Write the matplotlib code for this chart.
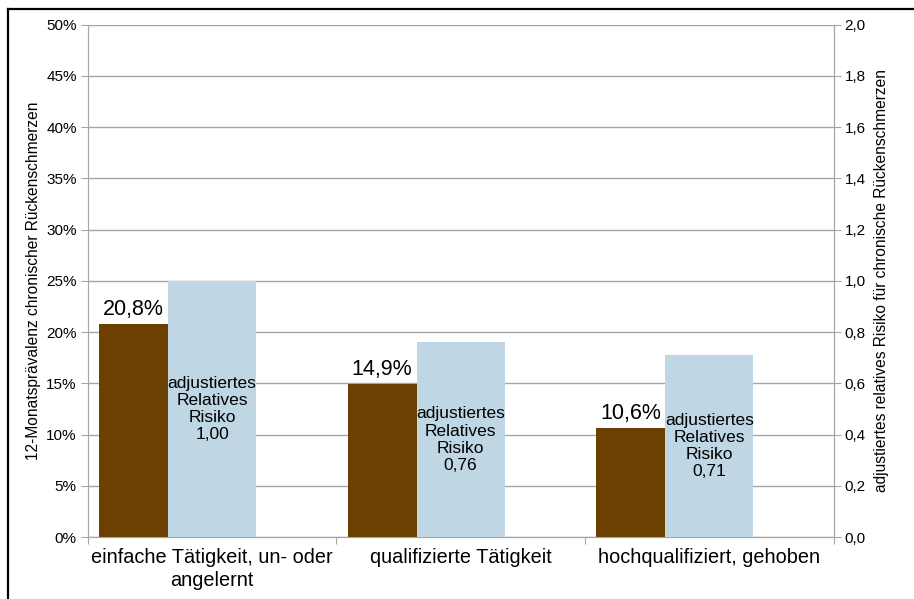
import numpy as np
import matplotlib.pyplot as plt
from matplotlib.ticker import FuncFormatter

plt.rcParams['font.family'] = ['Liberation Sans', 'DejaVu Sans']

# data
kategorien = ["einfache Tätigkeit, un- oder\nangelernt", "qualifizierte Tätigkeit", "hochqualifiziert, gehoben"]
praevalenz = [20.8, 14.9, 10.6]          # % (linke Achse)
rel_risiko = [1.00, 0.76, 0.71]          # rechte Achse

braun = "#6B4000"
hellblau = "#BFD7E4"
grau = "#A6A6A6"

fig = plt.figure(figsize=(9.14, 5.99), dpi=100)
ax = fig.add_axes([0.096, 0.1035, 0.816, 0.8555])
ax2 = ax.twinx()

x = np.arange(len(kategorien))
# Balken in Kategorie-Einheiten (0..1 pro Gruppe)
ax.bar(x + 0.0455, praevalenz, width=0.2775, align='edge', color=braun, zorder=3)
ax2.bar(x + 0.323, rel_risiko, width=0.354, align='edge', color=hellblau, zorder=3)

ax.set_xlim(0, 3)
ax.set_ylim(0, 50)
ax2.set_ylim(0, 2.0)
ax.set_yticks(np.arange(0, 51, 5))
ax2.set_yticks(np.arange(0, 2.01, 0.2))
ax.yaxis.set_major_formatter(FuncFormatter(lambda v, p: f"{v:.0f}%"))
ax2.yaxis.set_major_formatter(FuncFormatter(lambda v, p: f"{v:.1f}".replace(".", ",")))

ax.set_xticks([0, 1, 2, 3])
ax.set_xticklabels([])
ax.set_xticks(x + 0.5, minor=True)
ax.set_xticklabels(kategorien, minor=True, fontsize=14.3, linespacing=1.25)
ax.tick_params(axis='x', which='minor', length=0, pad=8)
ax.tick_params(axis='x', which='major', length=5, color=grau, direction='out')

ax.tick_params(axis='y', length=5, color=grau, labelsize=11, pad=3)
ax2.tick_params(axis='y', length=5, color=grau, labelsize=11, pad=3)

ax.grid(axis='y', color=grau, linewidth=1, zorder=0)
ax.set_axisbelow(True)
for a in (ax, ax2):
    for s in a.spines.values():
        s.set_color(grau)
    a.spines['top'].set_visible(False)
ax2.set_zorder(ax.get_zorder() + 1)
ax2.patch.set_visible(False)

ax.set_ylabel("12-Monatsprävalenz chronischer Rückenschmerzen", fontsize=11.2, labelpad=4)
ax2.set_ylabel("adjustiertes relatives Risiko für chronische Rückenschmerzen", fontsize=11.2, labelpad=6)

# Beschriftungen
for i, v in enumerate(praevalenz):
    ax.text(i + 0.0455 + 0.2775 / 2, v + 0.4, f"{v:.1f}%".replace(".", ","),
            ha='center', va='bottom', fontsize=15.5, zorder=5)
for i, r in enumerate(rel_risiko):
    ax2.text(i + 0.5, r / 2, "adjustiertes\nRelatives\nRisiko\n" + f"{r:.2f}".replace(".", ","),
             ha='center', va='center', fontsize=12.5, linespacing=1.18, zorder=5)

# Rahmen oben und links
fig.add_artist(plt.Line2D([0.0088, 0.0088], [0, 0.985], color='black', linewidth=1.6, transform=fig.transFigure))
fig.add_artist(plt.Line2D([0.0088, 1.0], [0.985, 0.985], color='black', linewidth=1.6, transform=fig.transFigure))

fig.savefig("out.png", dpi=100)
